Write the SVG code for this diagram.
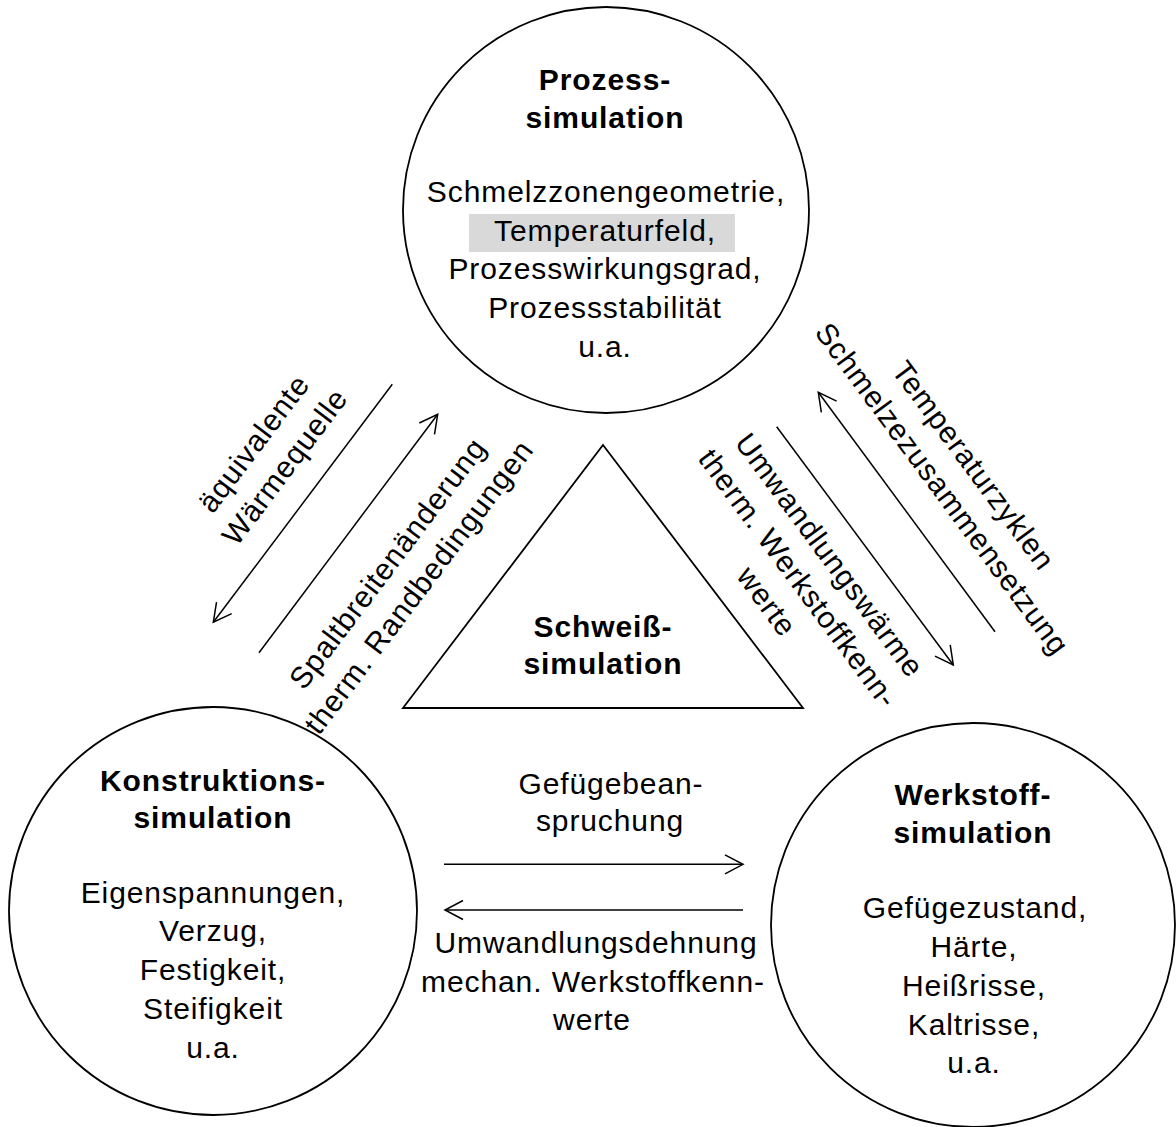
<svg xmlns="http://www.w3.org/2000/svg" width="1176" height="1127" viewBox="0 0 1176 1127">
<style>
text{font-family:"Liberation Sans",Arial,sans-serif;font-size:30px;fill:#000;text-anchor:middle;letter-spacing:0.9px}
.b{font-weight:bold}
.node{fill:#fff;stroke:#000;stroke-width:1.8}
.con{fill:none;stroke:#000;stroke-width:1.5}
</style>
<defs>
<marker id="ah" markerUnits="userSpaceOnUse" markerWidth="24" markerHeight="24" viewBox="-20 -12 24 24" refX="0" refY="0" orient="auto">
<path d="M-18,-9.5 L0,0 L-18,9.5" fill="none" stroke="#000" stroke-width="1.5"/>
</marker>
</defs>
<rect width="1176" height="1127" fill="#fff"/>
<g id="connectors">
<line class="con" x1="392.3" y1="384.3" x2="213.3" y2="622.3" marker-end="url(#ah)"/>
<line class="con" x1="259" y1="652.7" x2="437.7" y2="414.3" marker-end="url(#ah)"/>
<line class="con" x1="995" y1="631.7" x2="818.3" y2="392.3" marker-end="url(#ah)"/>
<line class="con" x1="776.7" y1="426.7" x2="953.3" y2="665" marker-end="url(#ah)"/>
<line class="con" x1="444" y1="864.3" x2="743" y2="864.3" marker-end="url(#ah)"/>
<line class="con" x1="743" y1="910" x2="445" y2="910" marker-end="url(#ah)"/>
<text transform="translate(269,455) rotate(-53)"><tspan x="0" y="-9">äquivalente</tspan><tspan x="0" y="30">Wärmequelle</tspan></text>
<text transform="translate(403,575) rotate(-53)"><tspan x="0" y="-9">Spaltbreitenänderung</tspan><tspan x="0" y="30">therm. Randbedingungen</tspan></text>
<text transform="translate(958,477) rotate(53.5)"><tspan x="0" y="-9">Temperaturzyklen</tspan><tspan x="0" y="30">Schmelzezusammensetzung</tspan></text>
<text transform="translate(798,578.5) rotate(53.5)"><tspan x="0" y="-29">Umwandlungswärme</tspan><tspan x="0" y="10">therm. Werkstoffkenn-</tspan><tspan x="0" y="49">werte</tspan></text>
<text><tspan x="611" y="794">Gefügebean-</tspan><tspan x="610" y="831">spruchung</tspan></text>
<text><tspan x="596" y="953">Umwandlungsdehnung</tspan><tspan x="593" y="991.7">mechan. Werkstoffkenn-</tspan><tspan x="592" y="1030">werte</tspan></text>
</g>
<g id="prozess">
<circle class="node" cx="606" cy="210" r="203"/>
<rect x="469" y="214" width="266" height="38" fill="#d9d9d9"/>
<text class="b"><tspan x="605" y="90">Prozess-</tspan><tspan x="605" y="128">simulation</tspan></text>
<text><tspan x="606" y="202">Schmelzzonengeometrie,</tspan><tspan x="605" y="240.7">Temperaturfeld,</tspan><tspan x="605" y="279">Prozesswirkungsgrad,</tspan><tspan x="605" y="318">Prozessstabilität</tspan><tspan x="605" y="357">u.a.</tspan></text>
</g>
<g id="schweiss">
<polygon class="node" points="603,445 803,708 403,708"/>
<text class="b"><tspan x="603" y="637">Schweiß-</tspan><tspan x="603" y="674">simulation</tspan></text>
</g>
<g id="konstruktion">
<circle class="node" cx="213" cy="911" r="204"/>
<text class="b"><tspan x="213" y="791">Konstruktions-</tspan><tspan x="213" y="828">simulation</tspan></text>
<text><tspan x="213" y="902.7">Eigenspannungen,</tspan><tspan x="213" y="941.4">Verzug,</tspan><tspan x="213" y="980">Festigkeit,</tspan><tspan x="213" y="1018.8">Steifigkeit</tspan><tspan x="213" y="1057.5">u.a.</tspan></text>
</g>
<g id="werkstoff">
<circle class="node" cx="973" cy="925" r="202"/>
<text class="b"><tspan x="973" y="805">Werkstoff-</tspan><tspan x="973" y="843.3">simulation</tspan></text>
<text><tspan x="975" y="918.3">Gefügezustand,</tspan><tspan x="974" y="956.7">Härte,</tspan><tspan x="974" y="996">Heißrisse,</tspan><tspan x="974" y="1035">Kaltrisse,</tspan><tspan x="974" y="1073">u.a.</tspan></text>
</g>
</svg>
